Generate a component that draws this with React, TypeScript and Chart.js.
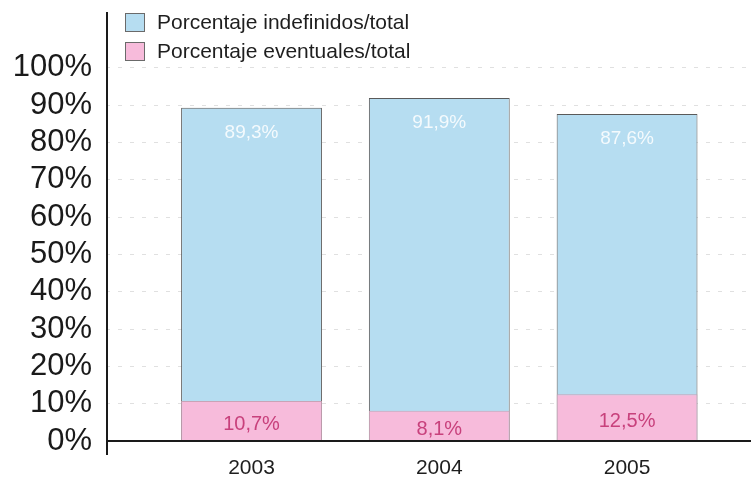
import React, { useEffect, useRef } from "react";
import { Chart, registerables } from "chart.js";

Chart.register(...registerables);

const years = ["2003", "2004", "2005"];
const indefinidos = [89.3, 91.9, 87.6];
const eventuales = [10.7, 8.1, 12.5];
const yTicks = [0, 10, 20, 30, 40, 50, 60, 70, 80, 90, 100];
const seriesNames = ["Porcentaje indefinidos/total", "Porcentaje eventuales/total"];

const BLUE = "#b6ddf1";
const PINK = "#f7bbdb";
const FONT = "'Liberation Sans', Arial, sans-serif";

const fmt = (v: number) => v.toFixed(1).replace(".", ",") + "%";

const decorPlugin = {
  id: "decor",
  afterDatasetsDraw(chart: any) {
    const { ctx, chartArea } = chart;
    const y = chart.scales.y;
    const y0 = y.getPixelForValue(0);
    ctx.save();
    // baseline
    ctx.strokeStyle = "#1a1a1a";
    ctx.lineWidth = 2;
    ctx.beginPath();
    ctx.moveTo(chartArea.left, y0);
    ctx.lineTo(chartArea.right, y0);
    ctx.stroke();
    // y axis line
    ctx.beginPath();
    ctx.moveTo(chartArea.left + 1, chartArea.top - 1);
    ctx.lineTo(chartArea.left + 1, y0 + 14);
    ctx.stroke();

    // bar value labels
    ctx.textAlign = "center";
    ctx.textBaseline = "middle";
    chart.data.datasets.forEach((ds: any, di: number) => {
      const meta = chart.getDatasetMeta(di);
      meta.data.forEach((el: any, i: number) => {
        const p = el.getProps(["x", "y", "base"], true);
        const v = ds.data[i].y;
        if (di === 0) {
          ctx.font = `19px ${FONT}`;
          ctx.fillStyle = "rgba(255,255,255,0.85)";
          ctx.fillText(fmt(v), p.x, p.y + 25);
        } else {
          ctx.font = `20px ${FONT}`;
          ctx.fillStyle = "#c8417c";
          ctx.fillText(fmt(v), p.x, (p.y + p.base) / 2 + 4);
        }
      });
    });

    // legend
    ctx.textAlign = "left";
    ctx.font = `21px ${FONT}`;
    const lx = chartArea.left + 19;
    chart.data.datasets.forEach((ds: any, di: number) => {
      const top = 13 + di * 29;
      ctx.fillStyle = ds.backgroundColor;
      ctx.fillRect(lx, top, 19, 18);
      ctx.strokeStyle = "#6a6a6a";
      ctx.lineWidth = 1;
      ctx.strokeRect(lx + 0.5, top + 0.5, 19, 18);
      ctx.fillStyle = "#1e1e1e";
      ctx.fillText(ds.label, lx + 32, top + 10);
    });
    ctx.restore();
  },
};

function App() {
  const ref = useRef<HTMLCanvasElement | null>(null);

  useEffect(() => {
    document.body.style.margin = "0";
    if (!ref.current) return;
    const chart = new Chart(ref.current, {
      type: "bar",
      data: {
        datasets: [
          {
            label: seriesNames[0],
            data: years.map((_, i) => ({ x: i, y: indefinidos[i] })),
            backgroundColor: BLUE,
            borderColor: "#5a5a5a",
            borderWidth: 1,
            grouped: false,
            order: 2,
          } as any,
          {
            label: seriesNames[1],
            data: years.map((_, i) => ({ x: i, y: eventuales[i] })),
            backgroundColor: PINK,
            borderColor: "#c9a3b6",
            borderWidth: 1,
            grouped: false,
            order: 1,
          } as any,
        ],
      },
      options: {
        animation: false,
        responsive: false,
        devicePixelRatio: 1,
        layout: { padding: { top: 13, right: 0, left: 0, bottom: 0 } },
        datasets: { bar: { barPercentage: 1, categoryPercentage: 0.75 } } as any,
        plugins: {
          legend: { display: false },
          tooltip: { enabled: false },
        },
        scales: {
          x: {
            type: "linear",
            min: -0.775,
            max: 2.66,
            offset: false,
            bounds: "data",
            grid: { display: false, drawTicks: false, offset: false },
            border: { display: false },
            afterBuildTicks: (s: any) => {
              s.ticks = years.map((_, i) => ({ value: i }));
            },
            afterFit: (s: any) => {
              s.height = 38;
              s.paddingLeft = 0;
              s.paddingRight = 0;
            },
            ticks: {
              padding: 15,
              color: "#1e1e1e",
              font: { family: FONT, size: 21 },
              callback: (v: any) => years[Math.round(Number(v))] ?? "",
              autoSkip: false,
              maxRotation: 0,
            },
          } as any,
          y: {
            min: 0,
            max: 114.7,
            afterBuildTicks: (s: any) => {
              s.ticks = yTicks.map((v) => ({ value: v }));
            },
            afterFit: (s: any) => {
              s.width = 106;
              s.paddingTop = 0;
              s.paddingBottom = 0;
            },
            grid: {
              drawTicks: false,
              color: (c: any) => (c.tick && c.tick.value === 0 ? "rgba(0,0,0,0)" : "#e0e0e0"),
              lineWidth: 1,
            },
            border: { display: false, dash: [4, 8] },
            ticks: {
              padding: 14,
              color: "#1a1a1a",
              font: { family: FONT, size: 31 },
              callback: (v: any) => `${v}%`,
            },
          },
        },
      },
      plugins: [decorPlugin],
    });
    return () => chart.destroy();
  }, []);

  return (
    <div style={{ width: 751, height: 479, background: "#fff" }}>
      <canvas ref={ref} width={751} height={479} />
    </div>
  );
}

export default App;
